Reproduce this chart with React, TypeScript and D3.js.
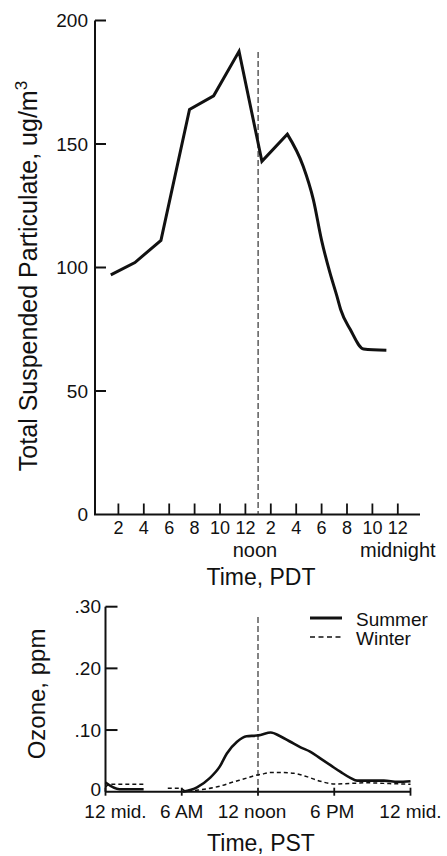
import React from 'react';
import * as d3 from 'd3';

// Total suspended particulate, hour of day (PDT) vs ug/m3
const tspHours = [1.4, 3.3, 5.35, 7.6, 9.5, 11.5, 13.3, 15.3, 16.55, 17.35, 18.0, 18.65, 19.2, 19.5, 20.25, 21.3, 23.1];
const tspValues = [97, 102, 111, 164, 169.5, 187.5, 143, 154, 141, 127.5, 111, 98, 88.5, 83, 75, 67, 66.5];

// Ozone, hour of day (PST) vs ppm; null = no trace drawn
const summerHours = [0, 1.1, 3.0, 4.5, 6.1, 7.2, 8.2, 9.0, 9.55, 10.35, 11.1, 11.9, 12.2, 13.0, 13.75, 14.55, 15.35, 16.1, 16.9, 17.7, 18.5, 19.3, 19.8, 20.9, 21.9, 23.0, 24];
const summerValues = [0.015, 0.004, 0.004, null, 0, 0.007, 0.022, 0.041, 0.062, 0.081, 0.09, 0.091, 0.092, 0.096, 0.09, 0.081, 0.072, 0.065, 0.054, 0.043, 0.032, 0.022, 0.018, 0.018, 0.018, 0.016, 0.017];
const winterHours = [0, 0.3, 3.1, 4.0, 4.9, 5.9, 6.3, 7.4, 8.8, 10.1, 11.1, 11.9, 12.2, 13.0, 14.0, 14.8, 15.9, 16.9, 18.0, 19.3, 20.6, 21.9, 24];
const winterValues = [0.007, 0.012, 0.012, null, 0.0055, 0.0055, 0.001, 0.003, 0.008, 0.016, 0.022, 0.027, 0.028, 0.031, 0.031, 0.03, 0.024, 0.017, 0.0125, 0.0135, 0.0145, 0.0135, 0.012];

// axis ticks
const tspTicks = [0, 50, 100, 150, 200];
const pdtTicks = [2, 4, 6, 8, 10, 12, 14, 16, 18, 20, 22, 24];
const pdtLabels = ['2', '4', '6', '8', '10', '12', '2', '4', '6', '8', '10', '12'];
const ozoneTicks = [0, 0.1, 0.2, 0.3];
const ozoneLabels = ['0', '.10', '.20', '.30'];
const pstTicks = [0, 6, 12, 18, 24];
const pstLabels = ['12 mid.', '6 AM', '12 noon', '6 PM', '12 mid.'];

const FONT = '"Liberation Sans", Arial, Helvetica, sans-serif';

type Pt = [number, number | null];

export default function App() {
  // top panel scales
  const xTop = d3.scaleLinear().domain([0, 26]).range([93, 423.2]);
  const yTop = d3.scaleLinear().domain([0, 200]).range([514.5, 20.5]);
  // bottom panel scales
  const xBot = d3.scaleLinear().domain([0, 24]).range([105.5, 410.5]);
  const yBot = d3.scaleLinear().domain([0, 0.3]).range([791.7, 606.7]);

  // straight segments up to the afternoon peak, smooth fall-off after it
  const tsp: [number, number][] = tspHours.map((h, i) => [h, tspValues[i]]);
  const split = 7;
  const tspLinear = d3
    .line<[number, number]>()
    .x(d => xTop(d[0]))
    .y(d => yTop(d[1]));
  const tspSmooth = tspLinear.curve(d3.curveMonotoneX);
  const tspPath =
    (d3.line<[number, number]>().x(d => xTop(d[0])).y(d => yTop(d[1]))(tsp.slice(0, split + 1)) || '') +
    (tspSmooth(tsp.slice(split)) || '').replace(/^M/, 'L');

  const ozLine = d3
    .line<Pt>()
    .defined(d => d[1] !== null)
    .x(d => xBot(d[0]))
    .y(d => yBot(d[1] as number))
    .curve(d3.curveMonotoneX);

  const summer: Pt[] = summerHours.map((h, i) => [h, summerValues[i]]);
  const winter: Pt[] = winterHours.map((h, i) => [h, winterValues[i]]);

  const axisX0 = 95;
  const botY0 = yBot(0);
  const nudge = [10, 0, -6, -2, 0];

  return (
    <svg
      width={447}
      height={856}
      style={{ position: 'absolute', left: 0, top: 0, background: '#fff' }}
      fontFamily={FONT}
    >
      {/* ---- top panel ---- */}
      <g stroke="#111" strokeWidth={2} fill="none">
        <line x1={axisX0} y1={yTop(200)} x2={axisX0} y2={yTop(0)} />
        <line x1={axisX0 - 1} y1={yTop(0)} x2={420} y2={yTop(0)} />
        {tspTicks.filter(t => t > 0).map(t => (
          <line key={t} x1={axisX0} x2={axisX0 + 11} y1={yTop(t)} y2={yTop(t)} />
        ))}
        {pdtTicks.map(t => (
          <line key={t} x1={xTop(t)} x2={xTop(t)} y1={yTop(0)} y2={yTop(0) - 11} strokeWidth={1.8} />
        ))}
      </g>
      {tspTicks.map(t => (
        <text key={t} x={88} y={yTop(t)} dy="0.35em" textAnchor="end" fontSize={19} fill="#111">
          {t}
        </text>
      ))}
      {pdtTicks.map((t, i) => (
        <text key={t} x={xTop(t)} y={534} textAnchor="middle" fontSize={18} fill="#111">
          {pdtLabels[i]}
        </text>
      ))}
      <text x={255} y={557} textAnchor="middle" fontSize={20} fill="#111">noon</text>
      <text x={xTop(24)} y={557} textAnchor="middle" fontSize={20} fill="#111">midnight</text>
      <text x={261} y={585} textAnchor="middle" fontSize={23} fill="#111">Time, PDT</text>
      <text
        transform="translate(37,276) rotate(-90)"
        textAnchor="middle"
        fontSize={25}
        fill="#111"
      >
        Total Suspended Particulate, ug/m
        <tspan fontSize={17} dy={-10}>3</tspan>
      </text>
      <line
        x1={xTop(13)}
        x2={xTop(13)}
        y1={52}
        y2={yTop(0)}
        stroke="#333"
        strokeWidth={1.2}
        strokeDasharray="6,3"
      />
      <path d={tspPath} fill="none" stroke="#111" strokeWidth={3} strokeLinejoin="miter" />

      {/* ---- bottom panel ---- */}
      <g stroke="#111" strokeWidth={2} fill="none">
        <line x1={xBot(0)} y1={yBot(0.3)} x2={xBot(0)} y2={botY0} />
        <line x1={xBot(0)} y1={botY0} x2={xBot(24)} y2={botY0} />
        {ozoneTicks.filter(t => t > 0).map(t => (
          <line key={t} x1={xBot(0)} x2={xBot(0) + 12} y1={yBot(t)} y2={yBot(t)} />
        ))}
        {pstTicks.map(t => (
          <line key={t} x1={xBot(t)} x2={xBot(t)} y1={botY0 - 4} y2={botY0 + 4} strokeWidth={1.8} />
        ))}
      </g>
      {ozoneTicks.map((t, i) => (
        <text
          key={t}
          x={101}
          y={yBot(t)}
          dy={t === 0 ? '0.22em' : '0.35em'}
          textAnchor="end"
          fontSize={19}
          fill="#111"
        >
          {ozoneLabels[i]}
        </text>
      ))}
      {pstTicks.map((t, i) => (
        <text key={i} x={xBot(t) + nudge[i]} y={818} textAnchor="middle" fontSize={19} fill="#111">
          {pstLabels[i]}
        </text>
      ))}
      <text x={261} y={851} textAnchor="middle" fontSize={23} fill="#111">Time, PST</text>
      <text
        transform="translate(45,694) rotate(-90)"
        textAnchor="middle"
        fontSize={24}
        fill="#111"
      >
        Ozone, ppm
      </text>
      <line
        x1={xBot(12)}
        x2={xBot(12)}
        y1={617}
        y2={botY0}
        stroke="#333"
        strokeWidth={1.2}
        strokeDasharray="6,3"
      />
      <path d={ozLine(winter) || ''} fill="none" stroke="#111" strokeWidth={1.5} strokeDasharray="4,3" />
      <path d={ozLine(summer) || ''} fill="none" stroke="#111" strokeWidth={2.6} />

      {/* legend */}
      <line x1={310} x2={342} y1={618} y2={618} stroke="#111" strokeWidth={3} />
      <text x={356} y={626} fontSize={19} fill="#111">Summer</text>
      <line x1={310} x2={342} y1={637} y2={637} stroke="#111" strokeWidth={1.5} strokeDasharray="5,3.5" />
      <text x={356} y={645} fontSize={19} fill="#111">Winter</text>
    </svg>
  );
}
